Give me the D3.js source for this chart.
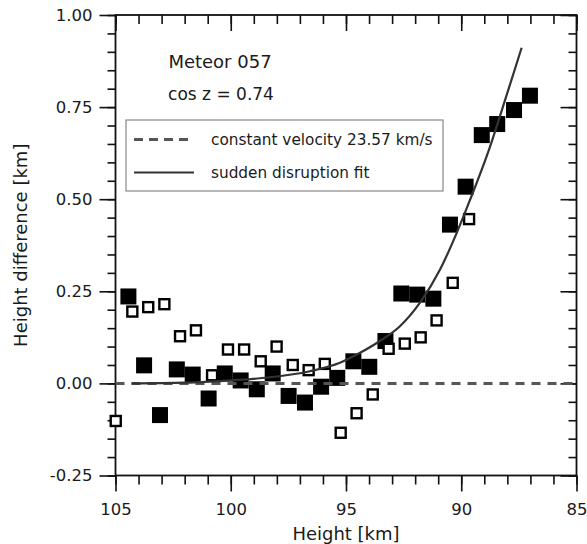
<!DOCTYPE html>
<html>
<head>
<meta charset="utf-8">
<script src="https://cdn.jsdelivr.net/npm/d3@7"></script>
<style>
  html, body { margin: 0; padding: 0; background: #fff; }
  svg text { font-family: "DejaVu Sans", sans-serif; fill: #1a1a1a; }
</style>
</head>
<body>
<script>
// Meteor 057: height residuals against the constant-velocity model
const filledHeight = [104.44,103.76,103.07,102.34,101.65,100.96,100.26,99.57,98.87,98.18,97.49,96.78,96.08,95.38,94.68,93.99,93.29,92.60,91.91,91.21,90.49,89.81,89.11,88.44,87.71,87.02];
const filledDiff   = [0.236,0.049,-0.086,0.038,0.024,-0.041,0.027,0.008,-0.016,0.027,-0.034,-0.052,-0.009,0.015,0.060,0.045,0.115,0.244,0.241,0.230,0.431,0.534,0.674,0.704,0.742,0.781];

const openHeight = [104.99,104.27,103.58,102.88,102.20,101.51,100.81,100.12,99.42,98.70,98.01,97.31,96.62,95.92,95.23,94.54,93.84,93.15,92.45,91.76,91.07,90.37,89.66];
const openDiff   = [-0.102,0.195,0.207,0.215,0.128,0.144,0.022,0.092,0.092,0.060,0.100,0.050,0.036,0.053,-0.134,-0.081,-0.030,0.094,0.108,0.125,0.171,0.273,0.446];

// sudden disruption fit curve
const fitHeight = [104.3,102.0,100.9,98.73,96.56,95.26,94.39,93.53,92.66,91.79,90.92,90.2,89.62,88.75,88.1,87.38];
const fitDiff   = [0.000,0.002,0.005,0.014,0.033,0.056,0.083,0.115,0.155,0.219,0.309,0.408,0.498,0.643,0.769,0.911];

// constant velocity model (zero residual)
const constHeight = [105, 85];
const constDiff = [0, 0];

const xTicks = [105, 100, 95, 90, 85];
const xTickLabels = ["105", "100", "95", "90", "85"];
const yTicks = [1.00, 0.75, 0.50, 0.25, 0.00, -0.25];
const yTickLabels = ["1.00", "0.75", "0.50", "0.25", "0.00", "-0.25"];

const legendLabels = ["constant velocity 23.57 km/s", "sudden disruption fit"];
const titleLines = ["Meteor 057", "cos z = 0.74"];

const W = 587, H = 544;
const pLeft = 115.5, pRight = 576.5, pTop = 15, pBottom = 475.5;

const svg = d3.select("body").append("svg").attr("width", W).attr("height", H);

const x = d3.scaleLinear().domain([105, 85]).range([pLeft, pRight]);
const y = d3.scaleLinear().domain([-0.25, 1.0]).range([pBottom, pTop]);

const xMinor = d3.range(105, 84.5, -1);
const yMinor = d3.range(-0.25, 1.001, 0.05).map(v => +v.toFixed(2));

// axes: left/bottom ticks point outward, top/right ticks point into the plot
function addAxis(axis, transform, labels) {
  const g = svg.append("g").attr("transform", transform).call(axis);
  g.select(".domain").remove();
  g.selectAll("line").attr("stroke", "#111").attr("stroke-width", 1.6);
  if (!labels) g.selectAll("text").remove();
  return g;
}
// minor ticks
addAxis(d3.axisBottom(x).tickValues(xMinor).tickSize(9).tickFormat(""), `translate(0,${pBottom})`, false);
addAxis(d3.axisBottom(x).tickValues(xMinor).tickSize(9).tickFormat(""), `translate(0,${pTop})`, false);
addAxis(d3.axisLeft(y).tickValues(yMinor).tickSize(8).tickFormat(""), `translate(${pLeft},0)`, false);
addAxis(d3.axisLeft(y).tickValues(yMinor).tickSize(8).tickFormat(""), `translate(${pRight},0)`, false);
// major ticks with labels
const gx = addAxis(d3.axisBottom(x).tickValues(xTicks).tickSize(16).tickPadding(12)
  .tickFormat((d, i) => xTickLabels[i]), `translate(0,${pBottom})`, true);
gx.selectAll("text").attr("font-size", 16.5).attr("font-family", "DejaVu Sans").attr("fill", "#1a1a1a");
addAxis(d3.axisBottom(x).tickValues(xTicks).tickSize(16).tickFormat(""), `translate(0,${pTop})`, false);
const gy = addAxis(d3.axisLeft(y).tickValues(yTicks).tickSize(16).tickPadding(7)
  .tickFormat((d, i) => yTickLabels[i]), `translate(${pLeft},0)`, true);
gy.selectAll("text").attr("font-size", 16.5).attr("font-family", "DejaVu Sans").attr("fill", "#1a1a1a");
addAxis(d3.axisLeft(y).tickValues(yTicks).tickSize(16).tickFormat(""), `translate(${pRight},0)`, false);

// frame
svg.append("rect").attr("x", pLeft).attr("y", pTop)
  .attr("width", pRight - pLeft).attr("height", pBottom - pTop)
  .attr("fill", "none").attr("stroke", "#111").attr("stroke-width", 1.8);

// filled squares
const fs = 16;
svg.append("g").selectAll("rect").data(filledHeight).join("rect")
  .attr("x", (d) => x(d) - fs / 2)
  .attr("y", (d, i) => y(filledDiff[i]) - fs / 2)
  .attr("width", fs).attr("height", fs).attr("fill", "#000");

// open squares
const os = 10;
svg.append("g").selectAll("rect").data(openHeight).join("rect")
  .attr("x", (d) => x(d) - os / 2)
  .attr("y", (d, i) => y(openDiff[i]) - os / 2)
  .attr("width", os).attr("height", os)
  .attr("fill", "#fff").attr("stroke", "#000").attr("stroke-width", 2.4);

// constant velocity line
svg.append("path")
  .datum(constHeight.map((h, i) => [h, constDiff[i]]))
  .attr("d", d3.line().x(d => x(d[0])).y(d => y(d[1])))
  .attr("fill", "none").attr("stroke", "#555").attr("stroke-width", 3)
  .attr("stroke-dasharray", "9,7");

// sudden disruption fit
svg.append("path")
  .datum(fitHeight.map((h, i) => [h, fitDiff[i]]))
  .attr("d", d3.line().x(d => x(d[0])).y(d => y(d[1])).curve(d3.curveMonotoneX))
  .attr("fill", "none").attr("stroke", "#333").attr("stroke-width", 2.2);

// title text
svg.append("text").attr("x", 220).attr("y", 68).attr("text-anchor", "middle")
  .attr("font-size", 18).text(titleLines[0]);
svg.append("text").attr("x", 221).attr("y", 100).attr("text-anchor", "middle")
  .attr("font-size", 17).text(titleLines[1]);

// legend
const lg = svg.append("g");
lg.append("rect").attr("x", 126).attr("y", 120).attr("width", 317).attr("height", 71)
  .attr("fill", "#fff").attr("stroke", "#888").attr("stroke-width", 1.2);
lg.append("line").attr("x1", 134).attr("x2", 194).attr("y1", 139.5).attr("y2", 139.5)
  .attr("stroke", "#555").attr("stroke-width", 3).attr("stroke-dasharray", "9,6");
lg.append("line").attr("x1", 134).attr("x2", 194).attr("y1", 172.5).attr("y2", 172.5)
  .attr("stroke", "#333").attr("stroke-width", 2.2);
lg.append("text").attr("x", 211).attr("y", 145).attr("font-size", 15.3).text(legendLabels[0]);
lg.append("text").attr("x", 211).attr("y", 178).attr("font-size", 15.3).text(legendLabels[1]);

// axis titles
svg.append("text").attr("x", (pLeft + pRight) / 2).attr("y", 540).attr("text-anchor", "middle")
  .attr("font-size", 18).text("Height [km]");
svg.append("text").attr("transform", `translate(27,${(pTop + pBottom) / 2}) rotate(-90)`)
  .attr("text-anchor", "middle").attr("font-size", 18).text("Height difference [km]");
</script>
</body>
</html>
